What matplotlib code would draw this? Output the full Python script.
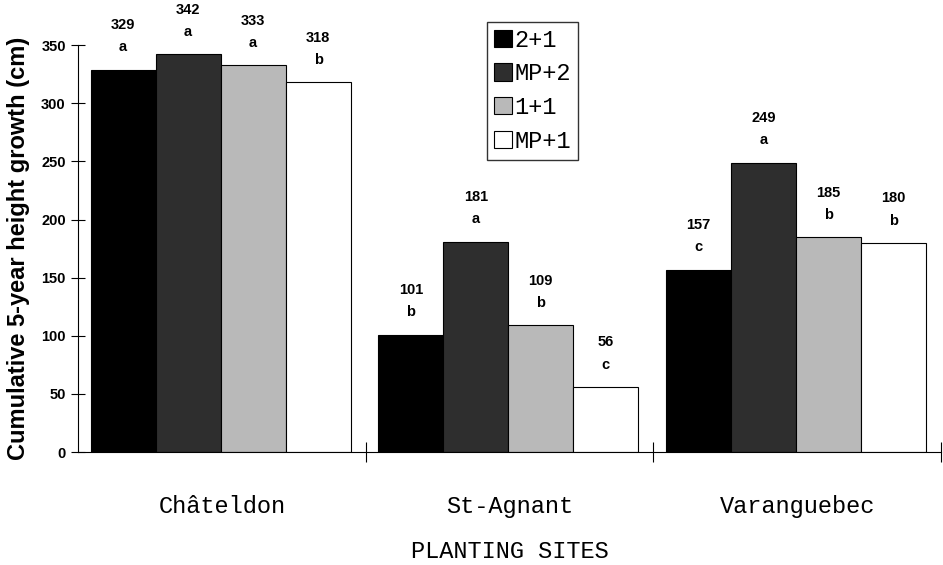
import matplotlib.pyplot as plt
import numpy as np

# data
sites = ["Châteldon", "St-Agnant", "Varanguebec"]
stock_types = ["2+1", "MP+2", "1+1", "MP+1"]
heights = {
    "2+1": [329, 101, 157],
    "MP+2": [342, 181, 249],
    "1+1": [333, 109, 185],
    "MP+1": [318, 56, 180],
}
letters = {
    "2+1": ["a", "b", "c"],
    "MP+2": ["a", "a", "a"],
    "1+1": ["a", "b", "b"],
    "MP+1": ["b", "c", "b"],
}
colors = ["#000000", "#2e2e2e", "#b9b9b9", "#ffffff"]

fig = plt.figure(figsize=(9.43, 5.65), dpi=100)
ax = fig.add_axes([0.083, 0.2, 0.915, 0.72])

x = np.arange(len(sites))
w = 0.226
offsets = (np.arange(4) - 1.5) * w - 0.005

for i, st in enumerate(stock_types):
    bars = ax.bar(x + offsets[i], heights[st], w, color=colors[i],
                  edgecolor="black", linewidth=0.8, label=st)
    for b, v, l in zip(bars, heights[st], letters[st]):
        cx = b.get_x() + b.get_width() / 2
        ax.annotate(str(v), (cx, v), xytext=(0, 32), textcoords="offset points",
                    ha="center", va="center", fontsize=10.5, fontweight="bold",
                    family="Liberation Sans")
        ax.annotate(l, (cx, v), xytext=(0, 16), textcoords="offset points",
                    ha="center", va="center", fontsize=10.5, fontweight="bold",
                    family="Liberation Sans")

ax.set_xlim(-0.5, 2.5)
ax.set_ylim(0, 350)
ax.set_yticks(range(0, 351, 50))
for lab in ax.get_yticklabels():
    lab.set_fontweight("bold")
    lab.set_family("Liberation Sans")
    lab.set_fontsize(10.5)
ax.set_xticks([0.5, 1.5, 2.5])
ax.set_xticklabels([])
ax.set_xticks(x, minor=True)
ax.set_xticklabels(sites, minor=True, family="Liberation Mono", fontsize=17)
ax.tick_params(axis="x", which="minor", length=0, pad=31)
ax.tick_params(axis="x", which="major", direction="inout", length=14)
ax.tick_params(axis="y", direction="inout", length=10, pad=4)

ax.spines["top"].set_visible(False)
ax.spines["right"].set_visible(False)

ax.set_ylabel("Cumulative 5-year height growth (cm)", fontsize=17,
              fontweight="bold", family="Liberation Sans", labelpad=8)
ax.set_xlabel("PLANTING SITES", family="Liberation Mono", fontsize=17, labelpad=16)

leg = ax.legend(loc="upper left", bbox_to_anchor=(0.474, 1.058),
                prop={"family": "Liberation Mono", "size": 17},
                frameon=True, fancybox=False, edgecolor="black", handlelength=0.75,
                handleheight=0.75, handletextpad=0.1, labelspacing=0.45,
                borderpad=0.3, borderaxespad=0)
leg.get_frame().set_linewidth(1.0)

fig.savefig("out.png", dpi=100)
